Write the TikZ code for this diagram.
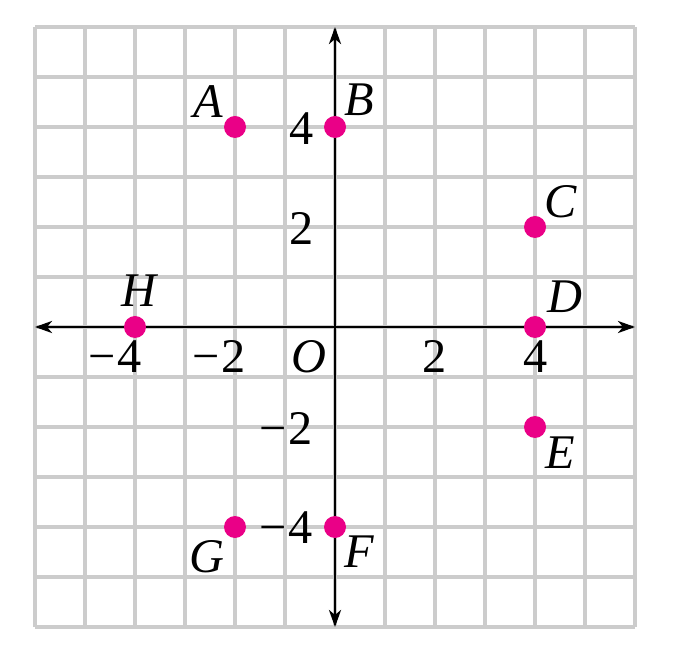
\documentclass[tikz,border=0pt]{standalone}
\usepackage{fontspec}
\setmainfont{Liberation Serif}
\usetikzlibrary{arrows.meta}
\definecolor{dotcol}{RGB}{234,0,135}
\definecolor{gridcol}{RGB}{204,204,204}
\tikzset{
  gridline/.style={draw=gridcol, line width=2.2pt},
  axisline/.style={draw=black, line width=1.7pt, -{Stealth[length=0.34cm,width=0.24cm,inset=0.1cm]}},
  ptdot/.style={circle, fill=dotcol, inner sep=0pt, minimum size=0.44cm},
  lbl/.style={font=\fontsize{27.5}{30}\selectfont\itshape, inner sep=0pt},
  num/.style={font=\fontsize{27.5}{30}\selectfont, inner sep=0pt}
}
\begin{document}
\begin{tikzpicture}
\useasboundingbox (-6.7,-6.78) rectangle (6.88,6.54);
\draw[gridline] (-6,-6) grid (6,6);
\coordinate (xl) at (-6,0);
\coordinate (xr) at (6,0);
\coordinate (yb) at (0,-6);
\coordinate (yt) at (0,6);
\coordinate (o) at (0,0);
\draw[axisline] (o) -- (xr);
\draw[axisline] (o) -- (xl);
\draw[axisline] (o) -- (yt);
\draw[axisline] (o) -- (yb);
\node[ptdot] (pA) at (-2,4) {};
\node[ptdot] (pB) at (0,4) {};
\node[ptdot] (pC) at (4,2) {};
\node[ptdot] (pD) at (4,0) {};
\node[ptdot] (pE) at (4,-2) {};
\node[ptdot] (pF) at (0,-4) {};
\node[ptdot] (pG) at (-2,-4) {};
\node[ptdot] (pH) at (-4,0) {};
\node[lbl] (lA) at (-2.54,4.5) {A};
\node[lbl] (lB) at (0.48,4.54) {B};
\node[lbl] (lC) at (4.52,2.5) {C};
\node[lbl] (lD) at (4.6,0.6) {D};
\node[lbl] (lE) at (4.5,-2.52) {E};
\node[lbl] (lF) at (0.48,-4.5) {F};
\node[lbl] (lG) at (-2.56,-4.6) {G};
\node[lbl] (lH) at (-3.92,0.72) {H};
\node[lbl] (lO) at (-0.52,-0.6) {O};
\node[num] (x1) at (-4.39,-0.6) {−\kern1pt 4};
\node[num] (x2) at (-2.32,-0.6) {−\kern1pt 2};
\node[num] (x3) at (2.0,-0.6) {2};
\node[num] (x4) at (4.02,-0.6) {4};
\node[num] (y1) at (-0.66,3.96) {4};
\node[num] (y2) at (-0.66,1.96) {2};
\node[num] (y3) at (-0.98,-2.04) {−\kern1pt 2};
\node[num] (y4) at (-0.98,-4.02) {−\kern1pt 4};
\end{tikzpicture}
\end{document}
